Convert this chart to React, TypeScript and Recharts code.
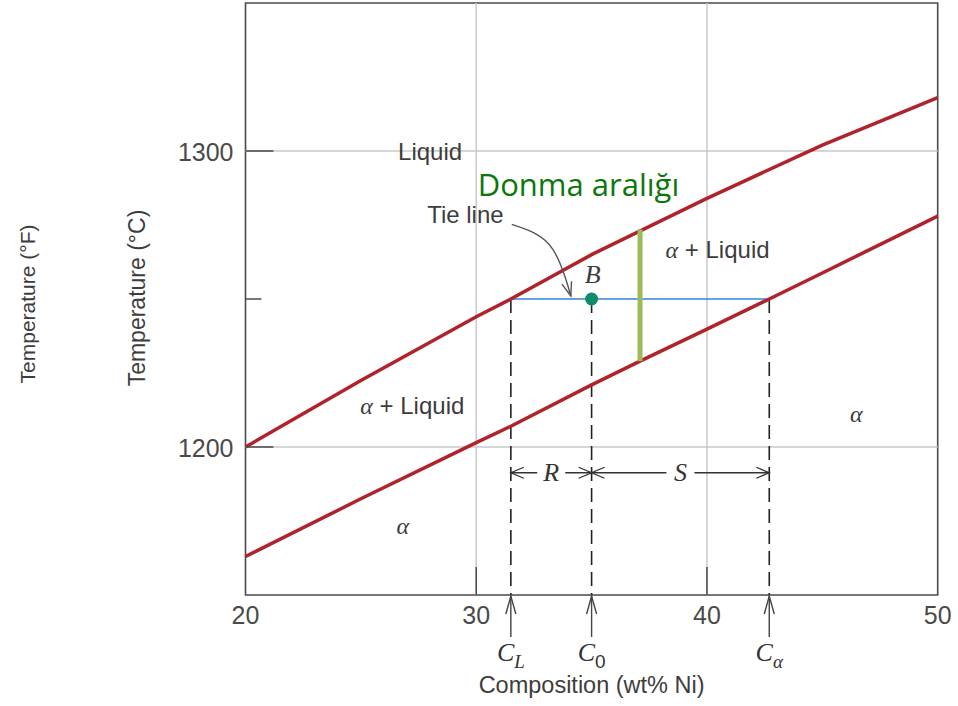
import React from 'react';
import {
  ComposedChart,
  Line,
  XAxis,
  YAxis,
  ReferenceLine,
  ReferenceArea,
  ReferenceDot,
} from 'recharts';

// ---------- data ----------
const xTicks = [20, 30, 40, 50];
const xMajorTicks = [30, 40];
const yTicks = [1200, 1250, 1300];
const yLabeledTicks = [1200, 1300];
const xDomain = [20, 50];
const yDomain = [1150, 1350];

const liquidus = [
  { c: 20, t: 1200 },
  { c: 25, t: 1222.5 },
  { c: 30, t: 1244 },
  { c: 31.5, t: 1250 },
  { c: 35, t: 1265 },
  { c: 40, t: 1284 },
  { c: 45, t: 1302 },
  { c: 50, t: 1318 },
];

const solidus = [
  { c: 20, t: 1163 },
  { c: 25, t: 1182.5 },
  { c: 30, t: 1201.5 },
  { c: 31.5, t: 1207 },
  { c: 35, t: 1221 },
  { c: 37.1, t: 1229 },
  { c: 40, t: 1239.8 },
  { c: 42.7, t: 1250 },
  { c: 45, t: 1258.8 },
  { c: 50, t: 1278 },
];

const tieTemp = 1250;
const tieLine = [
  { c: 31.5, t: tieTemp },
  { c: 42.7, t: tieTemp },
];

const freezingRange = [
  { c: 37.1, t: 1273.5 },
  { c: 37.1, t: 1229 },
];

const compositionMarks = [
  { c: 31.5, sub: 'L', subItalic: true },
  { c: 35, sub: '0', subItalic: false },
  { c: 42.7, sub: 'α', subItalic: true },
];

const pointB = { c: 35, t: tieTemp };

const dimTemp = 1191.3;
const dimensions = [
  { from: 31.5, to: 35, label: 'R' },
  { from: 35, to: 42.7, label: 'S' },
];

const tieArrow = [
  { c: 31.54, t: 1275.2 },
  { c: 32.54, t: 1272.2 },
  { c: 33.32, t: 1266.8 },
  { c: 33.84, t: 1257.7 },
  { c: 34.1, t: 1251.0 },
];

const annotations = [
  { c: 28.0, t: 1297.1, text: 'Liquid', kind: 'plain' },
  { c: 29.53, t: 1275.6, text: 'Tie line', kind: 'plain' },
  { c: 40.46, t: 1263.9, text: 'α + Liquid', kind: 'phase' },
  { c: 27.23, t: 1211.0, text: 'α + Liquid', kind: 'phase' },
  { c: 46.47, t: 1208.5, text: 'α', kind: 'alpha' },
  { c: 26.82, t: 1170.6, text: 'α', kind: 'alpha' },
  { c: 35.05, t: 1255.4, text: 'B', kind: 'math' },
  { c: 34.43, t: 1284.8, text: 'Donma aralığı', kind: 'highlight' },
];

// ---------- styles ----------
const SANS = '"Liberation Sans", Arial, Helvetica, sans-serif';
const SERIF = '"Liberation Serif", "DejaVu Serif", "Times New Roman", serif';
const HIGHLIGHT_FONT = '"Open Sans", "Noto Sans", sans-serif';
const RED = '#b0232b';
const GRID = '#c9c9c9';
const FRAME = '#4a4a4a';
const TEXT = '#3d3d3d';
const TICK_TEXT = '#4a4a4a';
const BLUE = '#2f86d0';
const GREEN = '#9bbb59';
const TEAL = '#0f8a6a';
const DARK_GREEN = '#0b780b';
const MAJOR_TICK = 28;
const MINOR_TICK = 16;

const xAxisTicks = [...xTicks, ...compositionMarks.map((m) => m.c)].sort((a, b) => a - b);

// ---------- renderers ----------
const renderXTick = (props: any) => {
  const { x, y, payload } = props;
  const v = payload.value;
  const mark = compositionMarks.find((m) => m.c === v);
  if (mark) {
    return (
      <g>
        <line x1={x} y1={y + 1} x2={x} y2={y + 42} stroke="#444" strokeWidth={1.4} />
        <path
          d={`M${x - 5},${y + 19} L${x},${y + 1} L${x + 5},${y + 19}`}
          fill="none"
          stroke="#444"
          strokeWidth={1.4}
        />
        <text x={x} y={y + 66} textAnchor="middle" fontFamily={SERIF} fontStyle="italic" fontSize={26} fill="#333">
          C
          <tspan
            dy={7}
            fontSize={19}
            fontStyle={mark.subItalic ? 'italic' : 'normal'}
            fontFamily={mark.subItalic ? SERIF : SANS}
          >
            {mark.sub}
          </tspan>
        </text>
      </g>
    );
  }
  const major = xMajorTicks.includes(v);
  return (
    <g>
      {major && <line x1={x} y1={y} x2={x} y2={y - MAJOR_TICK} stroke={FRAME} strokeWidth={1.5} />}
      <text x={x} y={y + 29} textAnchor="middle" fontFamily={SANS} fontSize={25} fill={TICK_TEXT}>
        {v}
      </text>
    </g>
  );
};

const renderTopTick = (props: any) => {
  const { x, y } = props;
  return <line x1={x} y1={y} x2={x} y2={y + MAJOR_TICK} stroke={FRAME} strokeWidth={1.5} />;
};

const renderLeftTick = (props: any) => {
  const { x, y, payload } = props;
  const v = payload.value;
  const labeled = yLabeledTicks.includes(v);
  return (
    <g>
      <line x1={x} y1={y} x2={x + (labeled ? MAJOR_TICK : MINOR_TICK)} y2={y} stroke={FRAME} strokeWidth={1.5} />
      {labeled && (
        <text x={x - 12} y={y + 9.5} textAnchor="end" fontFamily={SANS} fontSize={25} fill={TICK_TEXT}>
          {v}
        </text>
      )}
    </g>
  );
};

const renderRightTick = (props: any) => {
  const { x, y, payload } = props;
  const labeled = yLabeledTicks.includes(payload.value);
  return (
    <line x1={x} y1={y} x2={x - (labeled ? MAJOR_TICK : MINOR_TICK)} y2={y} stroke={FRAME} strokeWidth={1.5} />
  );
};

const renderYLabel = (props: any) => {
  const vb = props.viewBox || { x: 0, y: 0, width: 245.5, height: 592 };
  const cy = vb.y + vb.height / 2;
  const xc = vb.x + 145;
  const xf = vb.x + 35;
  return (
    <g>
      <text
        x={xc}
        y={cy - 1}
        textAnchor="middle"
        fontFamily={SANS}
        fontSize={23}
        fill={TEXT}
        transform={`rotate(-90, ${xc}, ${cy - 1})`}
      >
        Temperature (°C)
      </text>
      <text
        x={xf}
        y={cy + 5}
        textAnchor="middle"
        fontFamily={SANS}
        fontSize={21}
        fill={TEXT}
        transform={`rotate(-90, ${xf}, ${cy + 5})`}
      >
        Temperature (°F)
      </text>
    </g>
  );
};

const renderXLabel = (props: any) => {
  const vb = props.viewBox || { x: 245.5, y: 595, width: 692, height: 111 };
  return (
    <text x={vb.x + vb.width / 2} y={vb.y + 98} textAnchor="middle" fontFamily={SANS} fontSize={23.5} fill={TEXT}>
      Composition (wt% Ni)
    </text>
  );
};

const arrowHeadDot = (props: any) => {
  const { cx, cy, index } = props;
  if (index !== tieArrow.length - 1) return <g key={`ta-${index}`} />;
  return (
    <path
      key={`ta-${index}`}
      d="M-5,-14 L0,0 L5,-14"
      transform={`translate(${cx},${cy}) rotate(-17)`}
      fill="none"
      stroke="#555"
      strokeWidth={1.4}
    />
  );
};

const dimensionDot = (props: any) => {
  const { cx, cy, index } = props;
  const dir = index === 0 ? 1 : -1;
  return (
    <path
      key={`dd-${index}`}
      d={`M${cx + dir * 13},${cy - 5.5} L${cx},${cy} L${cx + dir * 13},${cy + 5.5}`}
      fill="none"
      stroke="#333"
      strokeWidth={1.3}
    />
  );
};

const renderDimLabel = (label: string) => (props: any) => {
  const { cx, cy } = props;
  return (
    <g>
      <rect x={cx - 14} y={cy - 12} width={28} height={24} fill="#fff" />
      <text x={cx} y={cy + 8} textAnchor="middle" fontFamily={SERIF} fontStyle="italic" fontSize={26} fill="#333">
        {label}
      </text>
    </g>
  );
};

const renderAnnotation = (a: any) => (props: any) => {
  const { cx, cy } = props;
  if (a.kind === 'phase') {
    return (
      <text x={cx} y={cy} textAnchor="middle" fontFamily={SANS} fontSize={24} fill={TEXT}>
        <tspan fontFamily={SERIF} fontStyle="italic">
          α
        </tspan>
        {' + Liquid'}
      </text>
    );
  }
  if (a.kind === 'alpha' || a.kind === 'math') {
    return (
      <text x={cx} y={cy} textAnchor="middle" fontFamily={SERIF} fontStyle="italic" fontSize={a.kind === 'math' ? 26 : 24} fill={TEXT}>
        {a.text}
      </text>
    );
  }
  if (a.kind === 'highlight') {
    return (
      <text x={cx} y={cy} textAnchor="middle" fontFamily={HIGHLIGHT_FONT} fontSize={31} fill={DARK_GREEN}>
        {a.text}
      </text>
    );
  }
  return (
    <text x={cx} y={cy} textAnchor="middle" fontFamily={SANS} fontSize={24} fill={TEXT}>
      {a.text}
    </text>
  );
};

export default function App() {
  return (
    <div style={{ position: 'absolute', left: 0, top: 0, width: 958, height: 706, background: '#fff' }}>
      <ComposedChart width={958} height={706} margin={{ top: 0, right: 0, bottom: 0, left: 0 }}>
        <XAxis
          xAxisId="x"
          dataKey="c"
          type="number"
          domain={xDomain}
          ticks={xAxisTicks}
          interval={0}
          height={111}
          axisLine={false}
          tickLine={false}
          tickSize={0}
          tickMargin={0}
          tick={renderXTick}
          label={renderXLabel}
        />
        <XAxis
          xAxisId="top"
          orientation="top"
          type="number"
          domain={xDomain}
          ticks={xMajorTicks}
          interval={0}
          height={3}
          axisLine={false}
          tickLine={false}
          tickSize={0}
          tickMargin={0}
          tick={renderTopTick}
        />
        <YAxis
          yAxisId="l"
          dataKey="t"
          type="number"
          domain={yDomain}
          ticks={yTicks}
          interval={0}
          width={245.5}
          axisLine={false}
          tickLine={false}
          tickSize={0}
          tickMargin={0}
          tick={renderLeftTick}
          label={renderYLabel}
        />
        <YAxis
          yAxisId="r"
          orientation="right"
          type="number"
          domain={yDomain}
          ticks={yTicks}
          interval={0}
          width={20.3}
          axisLine={false}
          tickLine={false}
          tickSize={0}
          tickMargin={0}
          tick={renderRightTick}
        />

        {xMajorTicks.map((v) => (
          <ReferenceLine key={`gx-${v}`} xAxisId="x" yAxisId="l" x={v} stroke={GRID} strokeWidth={1.5} />
        ))}
        {yLabeledTicks.map((v) => (
          <ReferenceLine key={`gy-${v}`} xAxisId="x" yAxisId="l" y={v} stroke={GRID} strokeWidth={1.5} />
        ))}

        <ReferenceArea
          xAxisId="x"
          yAxisId="l"
          x1={xDomain[0]}
          x2={xDomain[1]}
          y1={yDomain[0]}
          y2={yDomain[1]}
          fill="none"
          fillOpacity={0}
          stroke={FRAME}
          strokeWidth={1.6}
        />

        {compositionMarks.map((m) => (
          <Line
            key={`dash-${m.c}`}
            xAxisId="x"
            yAxisId="l"
            data={[
              { c: m.c, t: tieTemp },
              { c: m.c, t: yDomain[0] },
            ]}
            dataKey="t"
            type="linear"
            stroke="#222"
            strokeWidth={1.6}
            strokeDasharray="14 7"
            dot={false}
            activeDot={false}
            isAnimationActive={false}
          />
        ))}

        <Line
          xAxisId="x"
          yAxisId="l"
          data={tieLine}
          dataKey="t"
          type="linear"
          stroke={BLUE}
          strokeWidth={1.6}
          dot={false}
          activeDot={false}
          isAnimationActive={false}
        />

        <Line
          xAxisId="x"
          yAxisId="l"
          data={liquidus}
          dataKey="t"
          type="linear"
          stroke={RED}
          strokeWidth={3.5}
          dot={false}
          activeDot={false}
          isAnimationActive={false}
        />
        <Line
          xAxisId="x"
          yAxisId="l"
          data={solidus}
          dataKey="t"
          type="linear"
          stroke={RED}
          strokeWidth={3.5}
          dot={false}
          activeDot={false}
          isAnimationActive={false}
        />

        <Line
          xAxisId="x"
          yAxisId="l"
          data={freezingRange}
          dataKey="t"
          type="linear"
          stroke={GREEN}
          strokeWidth={5}
          dot={false}
          activeDot={false}
          isAnimationActive={false}
        />

        {dimensions.map((d) => (
          <Line
            key={`dim-${d.label}`}
            xAxisId="x"
            yAxisId="l"
            data={[
              { c: d.from, t: dimTemp },
              { c: d.to, t: dimTemp },
            ]}
            dataKey="t"
            type="linear"
            stroke="#333"
            strokeWidth={1.3}
            dot={dimensionDot}
            activeDot={false}
            isAnimationActive={false}
          />
        ))}
        {dimensions.map((d) => (
          <ReferenceDot
            key={`diml-${d.label}`}
            xAxisId="x"
            yAxisId="l"
            x={(d.from + d.to) / 2}
            y={dimTemp}
            r={0}
            shape={renderDimLabel(d.label)}
          />
        ))}

        <Line
          xAxisId="x"
          yAxisId="l"
          data={tieArrow}
          dataKey="t"
          type="natural"
          stroke="#555"
          strokeWidth={1.4}
          dot={arrowHeadDot}
          activeDot={false}
          isAnimationActive={false}
        />

        <ReferenceDot
          xAxisId="x"
          yAxisId="l"
          x={pointB.c}
          y={pointB.t}
          r={6.5}
          fill={TEAL}
          stroke="none"
        />

        {annotations.map((a, i) => (
          <ReferenceDot
            key={`ann-${i}`}
            xAxisId="x"
            yAxisId="l"
            x={a.c}
            y={a.t}
            r={0}
            shape={renderAnnotation(a)}
          />
        ))}
      </ComposedChart>
    </div>
  );
}
